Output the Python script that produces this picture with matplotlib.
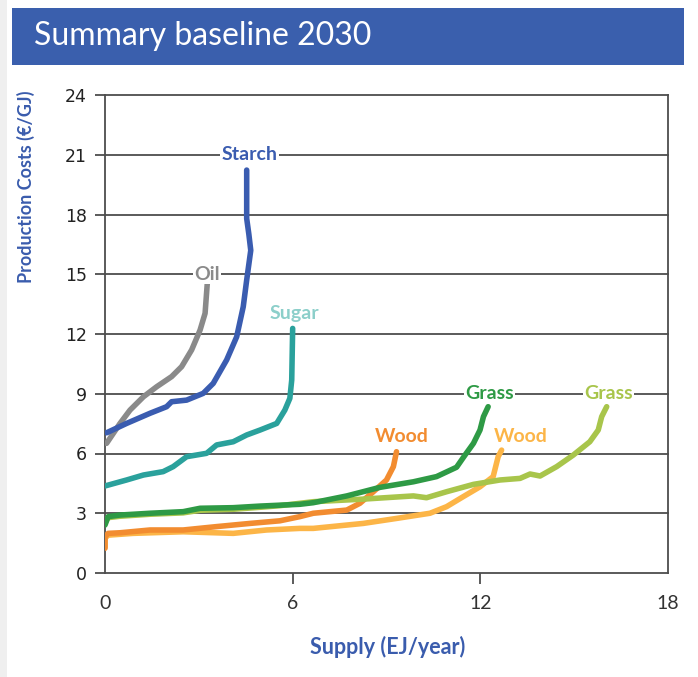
import matplotlib
matplotlib.use("Agg")
import matplotlib.pyplot as plt
from matplotlib.patches import Rectangle

# ---------------- data ----------------
starch_x = [0.05, 0.69, 1.44, 1.97, 2.13, 2.61, 3.14, 3.46, 3.89, 4.21, 4.42, 4.53, 4.66, 4.60, 4.53, 4.53]
starch_y = [7.04, 7.51, 8.02, 8.35, 8.60, 8.68, 9.02, 9.52, 10.7, 11.86, 13.37, 14.71, 16.2, 17.0, 17.8, 20.23]

oil_x = [0.05, 0.48, 0.80, 1.23, 1.65, 2.13, 2.45, 2.77, 3.04, 3.20, 3.27]
oil_y = [6.51, 7.51, 8.18, 8.85, 9.35, 9.86, 10.36, 11.2, 12.2, 13.04, 14.54]

sugar_x = [0.0, 0.69, 1.23, 1.86, 2.18, 2.61, 3.25, 3.57, 4.10, 4.53, 4.96, 5.49, 5.75, 5.91, 5.97, 6.00]
sugar_y = [4.37, 4.67, 4.92, 5.09, 5.34, 5.84, 6.01, 6.43, 6.59, 6.93, 7.18, 7.51, 8.18, 8.77, 9.69, 12.28]

grass1_x = [0.0, 0.10, 0.48, 1.44, 2.50, 3.04, 4.10, 4.96, 6.23, 6.66, 7.73, 8.79, 9.86, 10.6, 11.24, 11.51, 11.78, 11.99, 12.10, 12.25]
grass1_y = [2.41, 2.83, 2.91, 3.00, 3.08, 3.25, 3.28, 3.36, 3.45, 3.53, 3.87, 4.30, 4.58, 4.84, 5.31, 5.92, 6.51, 7.18, 7.85, 8.35]

grass2_x = [0.0, 0.10, 0.48, 1.44, 2.50, 3.04, 4.10, 4.96, 5.59, 6.66, 8.26, 9.86, 10.28, 10.92, 11.78, 12.63, 13.27, 13.59, 13.91, 14.44, 14.97, 15.50, 15.77, 15.88, 16.04]
grass2_y = [2.55, 2.78, 2.85, 2.95, 3.02, 3.15, 3.20, 3.30, 3.38, 3.58, 3.71, 3.87, 3.78, 4.08, 4.45, 4.67, 4.75, 4.97, 4.87, 5.34, 5.92, 6.59, 7.18, 7.85, 8.35]

wood1_x = [0.0, 0.0, 0.10, 0.48, 1.44, 2.50, 3.57, 4.64, 5.59, 6.23, 6.66, 7.73, 8.15, 8.58, 9.00, 9.22, 9.32]
wood1_y = [1.24, 1.82, 1.99, 2.02, 2.16, 2.16, 2.33, 2.49, 2.62, 2.83, 3.00, 3.16, 3.50, 4.08, 4.67, 5.34, 6.09]

wood2_x = [0.0, 0.0, 0.10, 0.90, 2.50, 4.10, 5.17, 6.23, 6.66, 8.26, 9.32, 10.39, 10.92, 11.45, 11.99, 12.41, 12.57, 12.68]
wood2_y = [1.30, 1.75, 1.90, 1.99, 2.07, 1.99, 2.16, 2.24, 2.24, 2.49, 2.74, 3.00, 3.33, 3.83, 4.33, 4.84, 5.84, 6.17]

x_ticks = [0, 6, 12, 18]
y_ticks = [0, 3, 6, 9, 12, 15, 18, 21, 24]

title = "Summary baseline 2030"
x_label = "Supply (EJ/year)"
y_label = "Production Costs (\u20ac/GJ)"

labels = [
    ("Starch", 4.63, 21.0, "#3a5cb0"),
    ("Oil", 3.26, 15.0, "#8a8a8a"),
    ("Sugar", 6.07, 13.05, "#8ccfca"),
    ("Grass", 12.3, 9.0, "#2e9a45"),
    ("Grass", 16.1, 9.0, "#a8c54b"),
    ("Wood", 9.5, 6.85, "#f28c30"),
    ("Wood", 13.3, 6.85, "#fcb547"),
]

# ---------------- figure ----------------
W, H = 698, 677
fig = plt.figure(figsize=(W / 100, H / 100), dpi=100)
fig.patch.set_facecolor("white")

fig.patches.append(Rectangle((0, 0), 7 / W, 1, transform=fig.transFigure,
                             facecolor="#efefef", edgecolor="none", zorder=0))
fig.patches.append(Rectangle((12 / W, 1 - 65 / H), (684 - 12) / W, (65 - 8) / H,
                             transform=fig.transFigure, facecolor="#3a5fad",
                             edgecolor="none", zorder=1))
fig.text(34 / W, 1 - 36 / H, title, color="white", fontsize=23,
         family=["Lato", "DejaVu Sans"], va="center", ha="left", zorder=2)

ax = fig.add_axes([105 / W, 1 - 573 / H, (668 - 105) / W, (573 - 95) / H])
ax.set_xlim(0, 18)
ax.set_ylim(0, 24)

grid_c = "#4d4d4d"
for v in y_ticks[1:]:
    ax.axhline(v, color=grid_c, lw=1.3, zorder=1, clip_on=False)

lw = 4.0
series = [
    (wood2_x, wood2_y, "#fcb547"),
    (wood1_x, wood1_y, "#f28c30"),
    (grass2_x, grass2_y, "#a8c54b"),
    (grass1_x, grass1_y, "#2e9a45"),
    (sugar_x, sugar_y, "#2aa19c"),
    (oil_x, oil_y, "#8a8a8a"),
    (starch_x, starch_y, "#3a5cb0"),
]
for xs, ys, c in series:
    ax.plot(xs, ys, color=c, lw=lw, solid_capstyle="round",
            solid_joinstyle="round", zorder=3)

for txt, x, y, c in labels:
    ax.text(x, y, txt, color=c, fontsize=14, fontweight="bold",
            family=["Lato", "DejaVu Sans"], ha="center", va="center", zorder=4,
            bbox=dict(facecolor="white", edgecolor="none", pad=1.0))

for s in ["left", "bottom", "right"]:
    ax.spines[s].set_color(grid_c)
    ax.spines[s].set_linewidth(1.3)
ax.spines["top"].set_visible(False)

ax.set_yticks(y_ticks)
ax.set_yticklabels([str(v) for v in y_ticks], family=["Liberation Sans Narrow", "DejaVu Sans"],
                   fontsize=12.5)
ax.tick_params(axis="y", length=7, width=1.3, color=grid_c, pad=6, labelcolor="#222222")

ax.set_xticks(x_ticks)
ax.set_xticklabels([str(v) for v in x_ticks], family=["Lato", "DejaVu Sans"], fontsize=14)
ax.tick_params(axis="x", length=8, width=1.3, color=grid_c, pad=8, labelcolor="#333333")
xt = ax.xaxis.get_major_ticks()
xt[0].tick1line.set_visible(False)
xt[-1].tick1line.set_visible(False)

fig.text(388 / W, 1 - 647 / H, x_label, color="#3a5cad", fontsize=15.5,
         fontweight="bold", family=["Lato", "DejaVu Sans"], ha="center", va="center")
fig.text(26 / W, 1 - 187 / H, y_label, color="#3a5cad", fontsize=13,
         fontweight="bold", family=["Lato", "DejaVu Sans"], ha="center", va="center",
         rotation=90)

fig.savefig("out.png", dpi=100)
